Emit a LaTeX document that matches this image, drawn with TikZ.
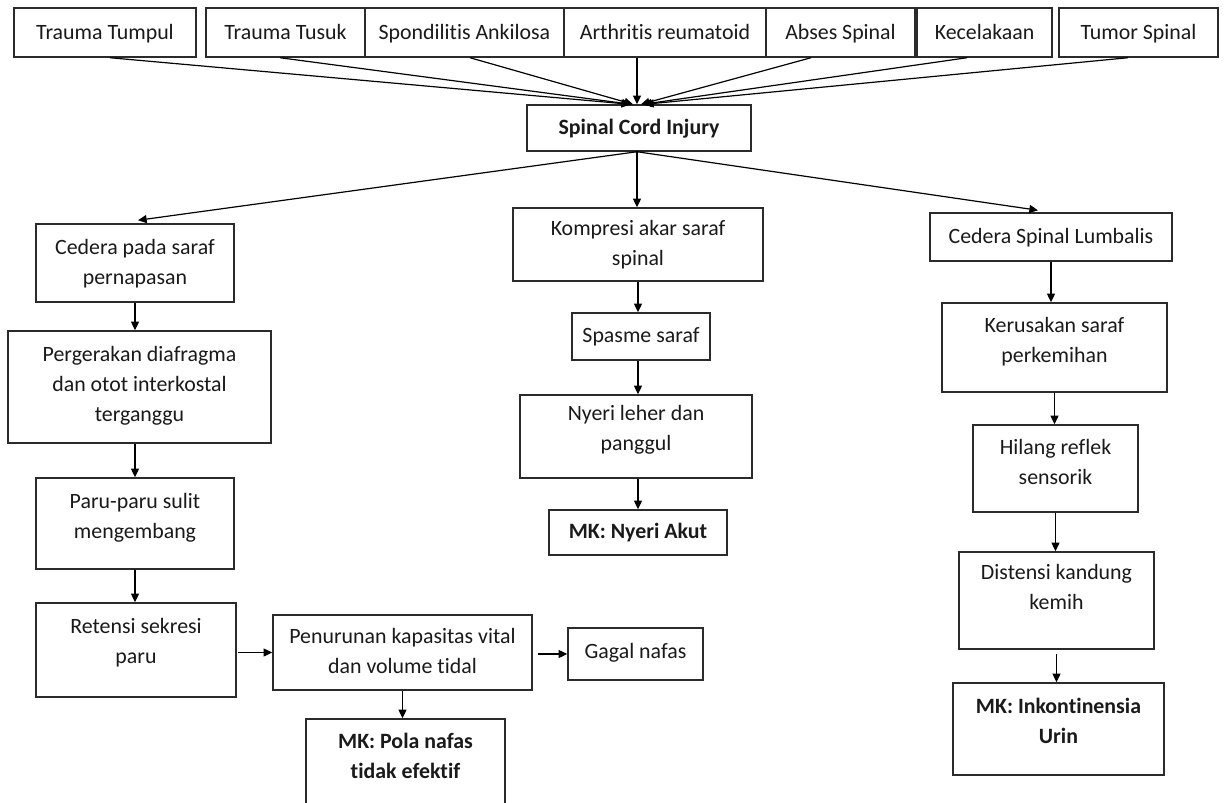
\documentclass[tikz,border=0pt]{standalone}
\usepackage{fontspec}
\setmainfont{Carlito}[RawFeature={-liga;-clig}]
\usetikzlibrary{arrows.meta,calc}
\definecolor{ink}{HTML}{1A1A1A}
\definecolor{edgec}{HTML}{2B2B2B}
\tikzset{
  box/.style={draw=edgec, line width=1.1pt, fill=white, inner sep=0pt, rectangle},
  txt/.style={align=center, inner sep=0pt, text=ink, font=\fontsize{16.4pt}{22.5pt}\selectfont},
  arr/.style={draw=black, line width=0.9pt, -{Triangle[length=6.5pt,width=6pt]}},
}
\newcommand{\bnode}[7]{%
  \pgfmathsetmacro\bnx{(#2+#4)/2}%
  \pgfmathsetmacro\bny{(#3+#5)/2}%
  \pgfmathsetmacro\bnw{(#4-#2)*0.75}%
  \pgfmathsetmacro\bnh{(#5-#3)*0.75}%
  \node[box, minimum width=\bnw pt, minimum height=\bnh pt] (#1) at (\bnx,\bny) {};%
  \node[txt] (#1-t) at ($(#1.center)+(0,#6)$) {\strut#7\strut};%
}
\begin{document}
\begin{tikzpicture}[x=0.75pt,y=-0.75pt]
\useasboundingbox (0,0) rectangle (1225,803);
\clip (0,0) rectangle (1225,803);
\fill[white] (0,0) rectangle (1225,803);
% top row
\bnode{t1}{14}{8}{196}{57}{1}{Trauma Tumpul}
\bnode{t2}{206}{8}{365}{57}{1}{Trauma Tusuk}
\bnode{t3}{365}{8}{564}{57}{1}{Spondilitis Ankilosa}
\bnode{t4}{564}{8}{766}{57}{1}{Arthritis reumatoid}
\bnode{t5}{766}{8}{915}{57}{1}{Abses Spinal}
\bnode{t6}{917}{8}{1052}{57}{1}{Kecelakaan}
\bnode{t7}{1059}{8}{1218}{57}{1}{Tumor Spinal}
% center
\bnode{sci}{527}{105}{751}{151}{0}{\bfseries Spinal Cord Injury}
% left column
\bnode{c1}{36}{224}{234}{302}{0}{Cedera pada saraf\\pernapasan}
\bnode{c2}{8}{331}{271}{443}{-2}{Pergerakan diafragma\\dan otot interkostal\\terganggu}
\bnode{c3}{36}{478}{234}{569}{-6}{Paru-paru sulit\\mengembang}
\bnode{c4}{36}{603}{236}{697}{-8}{Retensi sekresi\\paru}
\bnode{c5}{273}{615}{532}{690}{0}{Penurunan kapasitas vital\\dan volume tidal}
\bnode{c6}{568}{628}{703}{680}{-2}{Gagal nafas}
\bnode{c7}{306}{719}{505}{840}{-22.5}{\bfseries MK: Pola nafas\\\bfseries tidak efektif}
% middle column
\bnode{m1}{513}{208}{763}{281}{0}{Kompresi akar saraf\\spinal}
\bnode{m2}{572}{313}{710}{360}{0}{Spasme saraf}
\bnode{m3}{520}{395}{752}{478}{-7}{Nyeri leher dan\\panggul}
\bnode{m4}{549}{510}{727}{555}{0}{\bfseries MK: Nyeri Akut}
% right column
\bnode{r1}{930}{213}{1172}{261}{0}{Cedera Spinal Lumbalis}
\bnode{r2}{942}{303}{1167}{392}{-6}{Kerusakan saraf\\perkemihan}
\bnode{r3}{973}{425}{1138}{512}{-5}{Hilang reflek\\sensorik}
\bnode{r4}{959}{552}{1154}{649}{-12}{Distensi kandung\\kemih}
\bnode{r5}{953}{683}{1164}{775}{-7}{\bfseries MK: Inkontinensia\\\bfseries Urin}
% arrows: causes -> SCI
\draw[arr] ($(t1.south)+(5,0)$) -- ($(sci.north)+(-9,0)$);
\draw[arr] ($(t2.south)+(-5.5,0)$) -- ($(sci.north)+(-8,0)$);
\draw[arr] ($(t3.south)+(5.5,0)$) -- ($(sci.north)+(-6,0)$);
\draw[arr] ($(t4.south)+(-28,0)$) -- ($(sci.north)+(-2,0)$);
\draw[arr] ($(t5.south)+(-29.5,0)$) -- ($(sci.north)+(2,0)$);
\draw[arr] ($(t6.south)+(-17.5,0)$) -- ($(sci.north)+(4,0)$);
\draw[arr] ($(t7.south)+(-10.5,0)$) -- ($(sci.north)+(6,0)$);
% SCI -> branches
\draw[arr] ($(sci.south)+(-2,0)$) -- ($(c1.north)+(3,-3)$);
\draw[arr] ($(sci.south)+(-2,0)$) -- ($(m1.north)+(-1,0)$);
\draw[arr] ($(sci.south)+(-2,0)$) -- ($(r1.north)+(-13,-2)$);
% left chain
\draw[arr] (c1.south) -- (c1.south |- c2.north);
\draw[arr] (c3.north |- c2.south) -- (c3.north);
\draw[arr] (c3.south) -- (c3.south |- c4.north);
\draw[arr, shorten <=1pt] (c4.east |- c5.west) -- (c5.west);
\draw[arr, shorten <=4pt] (c5.east |- c6.west) -- (c6.west);
\draw[arr] (c5.south) -- (c5.south |- c7.north);
% middle chain
\draw[arr] (m1.south) -- (m1.south |- m2.north);
\draw[arr] (m1.south |- m2.south) -- (m1.south |- m3.north);
\draw[arr] (m1.south |- m3.south) -- (m1.south |- m4.north);
% right chain
\draw[arr] (r1.south) -- (r1.south |- r2.north);
\draw[arr] (r2.south) -- (r2.south |- r3.north);
\draw[arr] (r3.south) -- (r3.south |- r4.north);
\draw[arr, shorten <=3pt] (r4.south) -- (r4.south |- r5.north);
\end{tikzpicture}
\end{document}
